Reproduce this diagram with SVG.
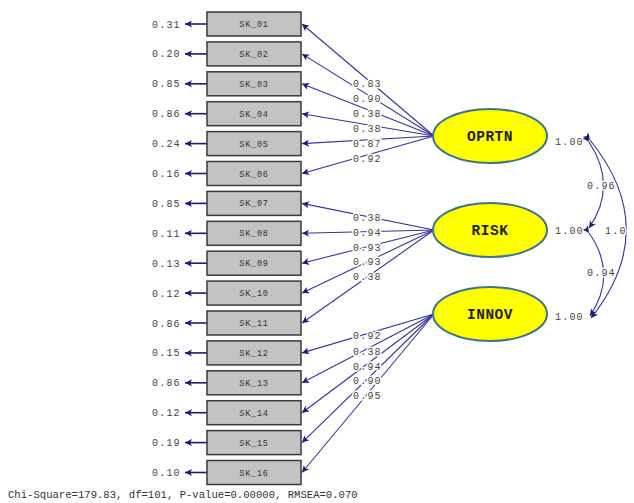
<svg xmlns="http://www.w3.org/2000/svg" width="634" height="503" viewBox="0 0 634 503">
<style>
.box rect{fill:#c3c3c3;stroke:#3a3a3a;stroke-width:1.5}
.box text{font-family:"Liberation Mono",monospace;font-size:8.5px;fill:#333;text-anchor:middle;letter-spacing:0.8px}
.err{font-family:"Liberation Mono",monospace;font-size:10px;fill:#444;letter-spacing:1.2px}
.lv ellipse{fill:#ffff00;stroke:#3b7391;stroke-width:2}
.lv text{font-family:"Liberation Mono",monospace;font-size:14.5px;font-weight:bold;fill:#222;text-anchor:middle;letter-spacing:0.5px}
.ld{font-family:"Liberation Mono",monospace;font-size:10px;fill:#444;letter-spacing:1.2px;paint-order:stroke;stroke:#fff;stroke-width:3px}
.ln{stroke:#3333a0;stroke-width:1.1;fill:none}
.eln{stroke:#1a1a80;stroke-width:1.6;fill:none}
.fit{font-family:"Liberation Mono",monospace;font-size:10.6px;fill:#333}
</style>
<defs>
<marker id="ah" viewBox="0 0 10 10" refX="10" refY="5" markerWidth="11" markerHeight="7" markerUnits="userSpaceOnUse" orient="auto"><path d="M0,0L10,5L0,10L2.5,5z" fill="#1a1a80"/></marker>
</defs>
<g id="connectors">
<g id="errors" class="eln" marker-end="url(#ah)">
<line x1="207" y1="24" x2="185" y2="24"/>
<line x1="207" y1="53.9" x2="185" y2="53.9"/>
<line x1="207" y1="83.8" x2="185" y2="83.8"/>
<line x1="207" y1="113.7" x2="185" y2="113.7"/>
<line x1="207" y1="143.6" x2="185" y2="143.6"/>
<line x1="207" y1="173.5" x2="185" y2="173.5"/>
<line x1="207" y1="203.4" x2="185" y2="203.4"/>
<line x1="207" y1="233.3" x2="185" y2="233.3"/>
<line x1="207" y1="263.2" x2="185" y2="263.2"/>
<line x1="207" y1="293.1" x2="185" y2="293.1"/>
<line x1="207" y1="323" x2="185" y2="323"/>
<line x1="207" y1="352.9" x2="185" y2="352.9"/>
<line x1="207" y1="382.8" x2="185" y2="382.8"/>
<line x1="207" y1="412.7" x2="185" y2="412.7"/>
<line x1="207" y1="442.6" x2="185" y2="442.6"/>
<line x1="207" y1="472.5" x2="185" y2="472.5"/>
</g>
<g id="loadings" class="ln" marker-end="url(#ah)">
<line x1="434" y1="136" x2="302" y2="24"/>
<line x1="434" y1="136" x2="302" y2="53.9"/>
<line x1="434" y1="136" x2="302" y2="83.8"/>
<line x1="434" y1="136" x2="302" y2="113.7"/>
<line x1="434" y1="136" x2="302" y2="143.6"/>
<line x1="434" y1="136" x2="302" y2="173.5"/>
<line x1="434" y1="230" x2="302" y2="203.4"/>
<line x1="434" y1="230" x2="302" y2="233.3"/>
<line x1="434" y1="230" x2="302" y2="263.2"/>
<line x1="434" y1="230" x2="302" y2="293.1"/>
<line x1="434" y1="230" x2="302" y2="323"/>
<line x1="434" y1="314" x2="302" y2="352.9"/>
<line x1="434" y1="314" x2="302" y2="382.8"/>
<line x1="434" y1="314" x2="302" y2="412.7"/>
<line x1="434" y1="314" x2="302" y2="442.6"/>
<line x1="434" y1="314" x2="302" y2="472.5"/>
</g>
<g id="covariances" class="ln" marker-start="url(#ah)" marker-end="url(#ah)">
<path d="M589,142 Q618,186 589,228"/>
<path d="M589,233 Q618,274 590,316"/>
<path d="M590,140 Q662,229 591,318"/>
</g>
</g>
<g id="error-labels" class="err">
<text x="152" y="27.5">0.31</text>
<text x="152" y="57.4">0.20</text>
<text x="152" y="87.3">0.85</text>
<text x="152" y="117.2">0.86</text>
<text x="152" y="147.1">0.24</text>
<text x="152" y="177">0.16</text>
<text x="152" y="206.9">0.85</text>
<text x="152" y="236.8">0.11</text>
<text x="152" y="266.7">0.13</text>
<text x="152" y="296.6">0.12</text>
<text x="152" y="326.5">0.86</text>
<text x="152" y="356.4">0.15</text>
<text x="152" y="386.3">0.86</text>
<text x="152" y="416.2">0.12</text>
<text x="152" y="446.1">0.19</text>
<text x="152" y="476">0.10</text>
</g>
<g id="SK_01" class="box"><rect x="207" y="12" width="94" height="24"/><text x="254" y="27">SK_01</text></g>
<g id="SK_02" class="box"><rect x="207" y="41.9" width="94" height="24"/><text x="254" y="56.9">SK_02</text></g>
<g id="SK_03" class="box"><rect x="207" y="71.8" width="94" height="24"/><text x="254" y="86.8">SK_03</text></g>
<g id="SK_04" class="box"><rect x="207" y="101.7" width="94" height="24"/><text x="254" y="116.7">SK_04</text></g>
<g id="SK_05" class="box"><rect x="207" y="131.6" width="94" height="24"/><text x="254" y="146.6">SK_05</text></g>
<g id="SK_06" class="box"><rect x="207" y="161.5" width="94" height="24"/><text x="254" y="176.5">SK_06</text></g>
<g id="SK_07" class="box"><rect x="207" y="191.4" width="94" height="24"/><text x="254" y="206.4">SK_07</text></g>
<g id="SK_08" class="box"><rect x="207" y="221.3" width="94" height="24"/><text x="254" y="236.3">SK_08</text></g>
<g id="SK_09" class="box"><rect x="207" y="251.2" width="94" height="24"/><text x="254" y="266.2">SK_09</text></g>
<g id="SK_10" class="box"><rect x="207" y="281.1" width="94" height="24"/><text x="254" y="296.1">SK_10</text></g>
<g id="SK_11" class="box"><rect x="207" y="311" width="94" height="24"/><text x="254" y="326">SK_11</text></g>
<g id="SK_12" class="box"><rect x="207" y="340.9" width="94" height="24"/><text x="254" y="355.9">SK_12</text></g>
<g id="SK_13" class="box"><rect x="207" y="370.8" width="94" height="24"/><text x="254" y="385.8">SK_13</text></g>
<g id="SK_14" class="box"><rect x="207" y="400.7" width="94" height="24"/><text x="254" y="415.7">SK_14</text></g>
<g id="SK_15" class="box"><rect x="207" y="430.6" width="94" height="24"/><text x="254" y="445.6">SK_15</text></g>
<g id="SK_16" class="box"><rect x="207" y="460.5" width="94" height="24"/><text x="254" y="475.5">SK_16</text></g>
<g id="loading-labels" class="ld">
<text x="353" y="87">0.83</text>
<text x="353" y="102">0.90</text>
<text x="353" y="117">0.38</text>
<text x="353" y="132">0.38</text>
<text x="353" y="147">0.87</text>
<text x="353" y="162">0.92</text>
<text x="353" y="220.5">0.38</text>
<text x="353" y="236">0.94</text>
<text x="353" y="250.5">0.93</text>
<text x="353" y="264.5">0.93</text>
<text x="353" y="279.5">0.38</text>
<text x="353" y="338.5">0.92</text>
<text x="353" y="354.5">0.38</text>
<text x="353" y="370">0.94</text>
<text x="353" y="383.5">0.90</text>
<text x="353" y="398.5">0.95</text>
</g>
<g id="OPRTN" class="lv"><ellipse cx="490" cy="136" rx="57" ry="27"/><text x="490" y="141">OPRTN</text></g>
<g id="RISK" class="lv"><ellipse cx="490" cy="230" rx="57" ry="27"/><text x="490" y="235">RISK</text></g>
<g id="INNOV" class="lv"><ellipse cx="490" cy="314" rx="57" ry="27"/><text x="490" y="319">INNOV</text></g>
<g id="variance-labels" class="ld">
<text x="555" y="145">1.00</text>
<text x="555" y="234">1.00</text>
<text x="555" y="320">1.00</text>
<text x="587" y="189">0.96</text>
<text x="587" y="276">0.94</text>
<text x="605" y="234">1.0</text>
</g>
<text class="fit" x="8" y="498">Chi-Square=179.83, df=101, P-value=0.00000, RMSEA=0.070</text>
</svg>
